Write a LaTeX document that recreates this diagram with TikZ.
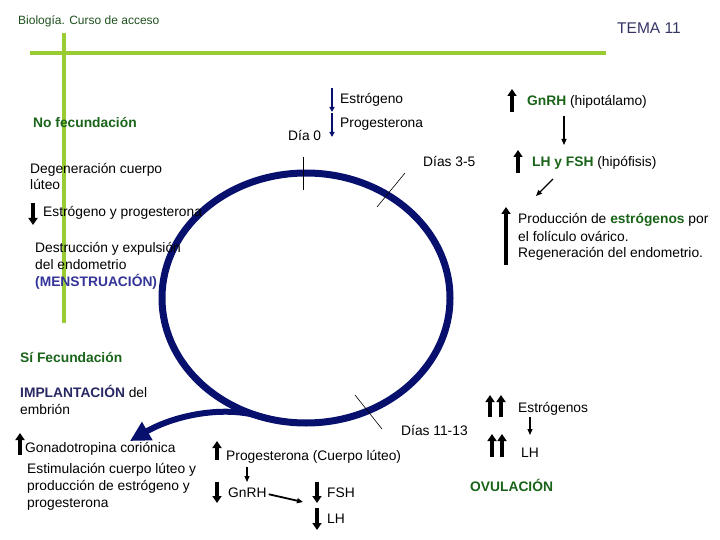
\documentclass[tikz,border=0pt]{standalone}
\usepackage{fontspec}
\setmainfont{Liberation Sans}
\usetikzlibrary{arrows.meta}

\definecolor{cverde}{RGB}{25,100,25}
\definecolor{cbio}{RGB}{30,80,30}
\definecolor{ctema}{RGB}{51,51,102}
\definecolor{cnavy}{RGB}{51,51,153}
\definecolor{cimpl}{RGB}{40,40,100}
\definecolor{clima}{RGB}{153,204,51}
\definecolor{cciclo}{RGB}{8,16,110}

\newcommand\fsz{\fontsize{13.8}{17}\selectfont}

\tikzset{
  txt/.style={anchor=base west,inner sep=0pt,font=\fsz},
  txtl/.style={txt,align=left},
  verde/.style={clima,line width=4.5pt},
  ciclo/.style={cciclo,line width=7pt},
  cola/.style={cciclo,line width=6pt,-{Triangle[length=20pt,width=20pt]}},
  marca/.style={black,line width=.6pt},
  sube/.style={black,line width=3.4pt,-{Triangle[length=7pt,width=9pt]}},
  baja/.style={sube},
  flecha/.style={black,line width=1.2pt,-{Triangle[length=6pt,width=5pt]}},
  flechaazul/.style={cciclo,line width=1.6pt,-{Triangle[length=5pt,width=5pt]}}
}

\begin{document}
\begin{tikzpicture}[x=1pt,y=-1pt]
\useasboundingbox (0,0) rectangle (720,540);
% cabecera
\node[txt,font=\fontsize{12}{14}\selectfont,text=cbio] (bio) at (18,25) {Biología. Curso de acceso};
\node[txt,font=\fontsize{15.5}{18}\selectfont,text=ctema] (tema) at (617,34) {TEMA 11};
\draw[verde] (30,53) -- (606,53);
\draw[verde] (64,33) -- (64,323);

% ciclo
\draw[ciclo] (306,298) ellipse [x radius=144pt,y radius=125pt];
\draw[cola] (262,417) .. controls (225,405) and (175,415) .. (130,441);
\draw[marca] (303,157) -- (303,190);
\draw[marca] (405,173) -- (377,207);
\draw[marca] (355,395) -- (382,429);

% dia 0
\node[txt] (estr) at (340,104) {Estrógeno};
\node[txt] (prog) at (340,128) {Progesterona};
\node[txt] (dia0) at (288,141) {Día 0};
\draw[flechaazul] ([xshift=-8pt]estr.base west) ++(0,-16) -- ++(0,24);
\draw[flechaazul] ([xshift=-8pt]prog.base west) ++(0,-15) -- ++(0,24);

% no fecundacion
\node[txt,font=\fsz\bfseries,text=cverde] (nofec) at (33,128) {No fecundación};
\node[txtl] (deg) at (30,190) {Degeneración cuerpo\\lúteo};
\node[txt] (eyp) at (43,217) {Estrógeno y progesterona};
\draw[baja] ([xshift=-10pt]eyp.base west) ++(0,-14) -- ++(0,22);
\node[txtl] (destr) at (35,286) {Destrucción y expulsión\\del endometrio\\{\bfseries\color{cnavy}(MENSTRUACIÓN)}};

% dias 3-5
\node[txt] (gnrh) at (527,106) {{\bfseries\color{cverde}GnRH} (hipotálamo)};
\draw[sube] ([xshift=-15pt]gnrh.base west) ++(0,6) -- ++(0,-23);
\node[txt] (dias35) at (423,167) {Días 3-5};
\node[txt] (lhfsh) at (532,167) {{\bfseries\color{cverde}LH y FSH} (hipófisis)};
\draw[sube] ([xshift=-14pt]lhfsh.base west) ++(0,6) -- ++(0,-23);
\draw[flecha] ([xshift=37pt,yshift=-10pt]gnrh.base west) -- ([xshift=32pt,yshift=22pt]lhfsh.base west);
\node[txtl] (prod) at (518,258) {Producción de {\bfseries\color{cverde}estrógenos} por\\el folículo ovárico.\\Regeneración del endometrio.};
\draw[sube] ([xshift=-12pt]prod.base west) ++(0,7) -- ++(0,-58);
\draw[flecha] ([xshift=21pt,yshift=-12pt]lhfsh.base west) -- ([xshift=18pt,yshift=62pt]prod.base west);

% si fecundacion
\node[txt,font=\fsz\bfseries,text=cverde] (sifec) at (20,362) {Sí Fecundación};
\node[txtl] (impl) at (20,414) {{\bfseries\color{cimpl}IMPLANTACIÓN} del\\embrión};
\node[txt] (gona) at (25,452) {Gonadotropina coriónica};
\draw[sube] ([xshift=-5pt]gona.base west) ++(0,3) -- ++(0,-22);
\node[txtl] (estim) at (27,507) {Estimulación cuerpo lúteo y\\producción de estrógeno y\\progesterona};

\node[txt] (progcl) at (226,460) {Progesterona (Cuerpo lúteo)};
\draw[sube] ([xshift=-9pt]progcl.base west) -- ++(0,-19);
\node[txt] (gnrhb) at (228,497) {GnRH};
\draw[baja] ([xshift=-11pt]gnrhb.base west) ++(0,-15) -- ++(0,21);
\draw[flecha] ([xshift=21pt,yshift=-7pt]progcl.base west) -- ([xshift=19pt,yshift=15pt]gnrhb.base west);
\node[txt] (fsh) at (327,497) {FSH};
\draw[baja] ([xshift=-10pt]fsh.base west) ++(0,-15) -- ++(0,21);
\draw[flecha,line width=1.8pt] ([xshift=2pt,yshift=-2pt]gnrhb.east) -- ([xshift=-24pt,yshift=-5pt]fsh.base west);
\node[txt] (lhb) at (327,523) {LH};
\draw[baja] ([xshift=-10pt]lhb.base west) ++(0,-15) -- ++(0,22);

% dias 11-13
\node[txt] (dias1113) at (401,435) {Días 11-13};
\node[txt] (estrs) at (518,412) {Estrógenos};
\draw[sube] ([xshift=-28pt]estrs.base west) ++(0,5) -- ++(0,-22);
\draw[sube] ([xshift=-17pt]estrs.base west) ++(0,5) -- ++(0,-22);
\node[txt] (lhr) at (521,457) {LH};
\draw[sube] ([xshift=-29pt]lhr.base west) -- ++(0,-23);
\draw[sube] ([xshift=-19pt]lhr.base west) -- ++(0,-23);
\draw[flecha] ([xshift=12pt,yshift=-5pt]estrs.base west) -- ([xshift=9pt,yshift=22pt]lhr.base west);
\node[txt,font=\fsz\bfseries,text=cverde] (ovul) at (470,491) {OVULACIÓN};
\end{tikzpicture}
\end{document}
